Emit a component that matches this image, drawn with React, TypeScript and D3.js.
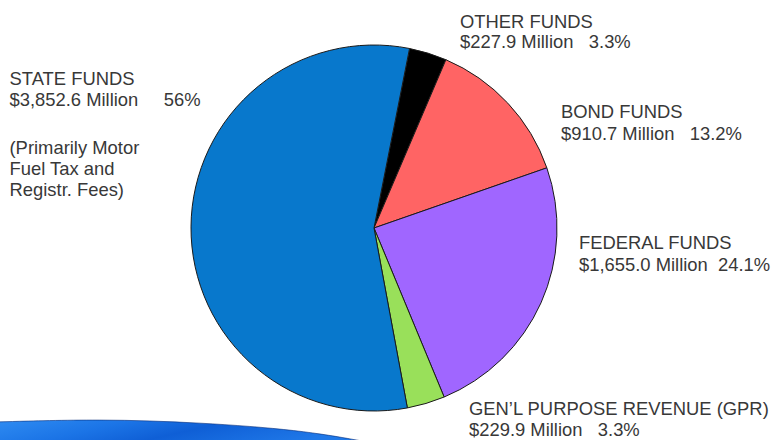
import React from "react";
import * as d3 from "d3";

const categories = [
  "OTHER FUNDS",
  "BOND FUNDS",
  "FEDERAL FUNDS",
  "GEN\u2019L PURPOSE REVENUE (GPR)",
  "STATE FUNDS",
];
const amounts = [227.9, 910.7, 1655.0, 229.9, 3852.6];
const amountLabels = [
  "$227.9 Million",
  "$910.7 Million",
  "$1,655.0 Million",
  "$229.9 Million",
  "$3,852.6 Million",
];
const percentLabels = ["3.3%", "13.2%", "24.1%", "3.3%", "56%"];
const stateNote = ["(Primarily Motor", "Fuel Tax and", "Registr. Fees)"];
const sliceColors = ["#000000", "#FF6464", "#A066FF", "#99E05A", "#0878CC"];

// label layout: [x, first baseline, line gap, spaces before percent]
const labelLayout: [number, number, number, number][] = [
  [460, 27.5, 20.5, 3],
  [561, 117.5, 22, 3],
  [579, 248.5, 22, 2],
  [469, 414.5, 21.5, 3],
  [9.5, 85, 21, 5],
];

const W = 777;
const H = 440;
const cx = 374;
const cy = 228;
const R = 183;
const start = (11.2 * Math.PI) / 180;

export default function App() {
  const pie = d3
    .pie<number>()
    .sort(null)
    .value((d) => d)
    .startAngle(start)
    .endAngle(start + 2 * Math.PI);
  const arcs = pie(amounts);
  const arcGen = d3.arc<d3.PieArcDatum<number>>().innerRadius(0).outerRadius(R);

  const waveTop: [number, number][] = [
    [-5, 422],
    [100, 419],
    [200, 422.5],
    [300, 430],
    [362, 441],
  ];
  const line = d3.line().curve(d3.curveBasis);
  const topPath = line(waveTop) || "";
  const wavePath = topPath + `L362,${H + 5}L-5,${H + 5}Z`;

  const textStyle: React.CSSProperties = {
    fontFamily: "'Liberation Sans', Arial, sans-serif",
    fontSize: 18.4,
    fill: "#383838",
    whiteSpace: "pre",
  };

  return (
    <svg
      width={W}
      height={H}
      style={{ position: "absolute", left: 0, top: 0, display: "block", background: "#fff" }}
    >
      <defs>
        <linearGradient id="waveGrad" x1="0" y1="0" x2="1" y2="0.3">
          <stop offset="0%" stopColor="#2f8cf2" />
          <stop offset="35%" stopColor="#1b74e6" />
          <stop offset="60%" stopColor="#0f5fd6" />
          <stop offset="100%" stopColor="#1f78e8" />
        </linearGradient>
      </defs>
      <path d={wavePath} fill="url(#waveGrad)" />
      <path d={topPath} fill="none" stroke="#0a2f7a" strokeWidth={1} strokeOpacity={0.6} />
      <g transform={`translate(${cx},${cy})`}>
        {arcs.map((a, i) => (
          <path
            key={i}
            d={arcGen(a) || ""}
            fill={sliceColors[i]}
            stroke="#1a1a1a"
            strokeWidth={1}
            strokeLinejoin="round"
          />
        ))}
      </g>
      {categories.map((c, i) => {
        const [x, y, gap, sp] = labelLayout[i];
        return (
          <text key={i} style={textStyle}>
            <tspan x={x} y={y}>
              {c}
            </tspan>
            <tspan x={x} y={y + gap}>
              {amountLabels[i] + " ".repeat(sp) + percentLabels[i]}
            </tspan>
          </text>
        );
      })}
      <text style={textStyle}>
        {stateNote.map((t, j) => (
          <tspan key={j} x={9.5} y={154 + j * 21}>
            {t}
          </tspan>
        ))}
      </text>
    </svg>
  );
}
